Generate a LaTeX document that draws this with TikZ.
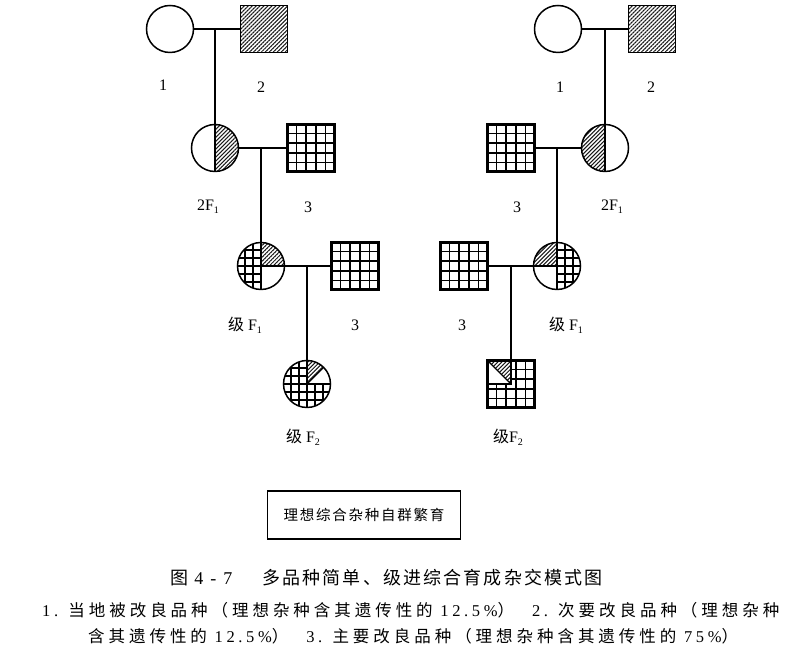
\documentclass[tikz,border=0pt]{standalone}
\usepackage{fontspec}
\setmainfont{Liberation Serif}
\newfontfamily\cjk{Noto Sans CJK SC}
\newfontfamily\cjkcap{Noto Sans CJK SC}[LetterSpace=12]
\newfontfamily\cjknote{Noto Sans CJK SC}[LetterSpace=24]
\newfontfamily\latnote{Liberation Serif}[LetterSpace=22]
\newfontfamily\latcap{Liberation Serif}[LetterSpace=14]
\newfontfamily\cjkbox{Noto Sans CJK SC}[LetterSpace=12]
\usetikzlibrary{patterns.meta}

\newcommand\sub[1]{\raisebox{-3pt}{\fontsize{10}{10}\selectfont #1}}
\newcommand\ppsetup{%
  \coordinate (pc) at (path picture bounding box.center);
  \coordinate (pn) at (path picture bounding box.north);
  \coordinate (ps) at (path picture bounding box.south);
  \coordinate (pe) at (path picture bounding box.east);
  \coordinate (pw) at (path picture bounding box.west);
  \coordinate (pne) at (path picture bounding box.north east);
  \coordinate (pnw) at (path picture bounding box.north west);
  \coordinate (psw) at (path picture bounding box.south west);
  \coordinate (pse) at (path picture bounding box.south east);}
% #1: x offsets of vertical lines, #2: y offsets of horizontal lines
\newcommand\gridat[2]{%
  \foreach \k in {#1}{\draw[gridln] ([xshift=\k pt]ps) -- ([xshift=\k pt]pn);}%
  \foreach \k in {#2}{\draw[gridln] ([yshift=\k pt]pw) -- ([yshift=\k pt]pe);}}

\tikzset{
  ind/.style={draw=black, line width=1.5pt, inner sep=0pt, outer sep=0pt},
  fem/.style={ind, circle, minimum size=47pt},
  mal/.style={ind, rectangle, minimum size=47pt},
  hatch/.style={pattern={Lines[angle=45,distance=2.8pt,line width=1.05pt]}, pattern color=black!90},
  gridln/.style={line width=1.5pt, black},
  div/.style={line width=1.3pt, black},
  link/.style={line width=1.4pt, black},
  lbl/.style={font=\fontsize{16}{16}\selectfont, inner sep=0pt},
  hatchsq/.style={mal, path picture={\ppsetup \fill[hatch] (psw) rectangle (pne);}},
  gridsq/.style={mal, line width=2.2pt, path picture={\ppsetup \gridat{-14.4,-4.8,4.8,14.4}{-14.4,-4.8,4.8,14.4}}},
}

\begin{document}
\begin{tikzpicture}[x=1pt,y=1pt]
\useasboundingbox (0,0) rectangle (809,658);
\fill[white] (0,0) rectangle (809,658);

% ---------- left pedigree ----------
\node[fem] (L1) at (170,629) {};
\node[hatchsq] (L2) at (264,629) {};
\node[fem, path picture={\ppsetup \fill[hatch] (ps) rectangle (pne); \draw[div] (pn) -- (ps);}] (LF) at (215,510) {};
\node[gridsq] (L3a) at (311,510) {};
\node[fem, path picture={\ppsetup
   \begin{scope}\clip (psw) rectangle (pn); \gridat{-16,-8,0}{-16,-8,0,8,16}\end{scope}
   \fill[hatch] (pc) rectangle (pne);
   \draw[div] (pn) -- (ps); \draw[div] (pc) -- (pe);}] (LG) at (261,392) {};
\node[gridsq] (L3b) at (355,392) {};
\node[fem, path picture={\ppsetup \gridat{-16,-8,0,8,16}{-16,-8,0,8,16}
   \fill[white] (pc) rectangle (pne);
   \fill[hatch] (pc) -- (pn) -- (pne) -- cycle;
   \draw[div] (pn) -- (pc) -- (pe); \draw[div] (pc) -- (pne);}] (LH) at (307,274) {};

\draw[link] (L1.east) -- (L2.west);
\draw[link] (LF.north) -- (LF.north |- L1.east);
\draw[link] (LF.east) -- (L3a.west);
\draw[link] (LG.north) -- (LG.north |- LF.east);
\draw[link] (LG.east) -- (L3b.west);
\draw[link] (LH.north) -- (LH.north |- LG.east);

\node[lbl] (t1L) at (163,573) {1};
\node[lbl] (t2L) at (261,571) {2};
\node[lbl] (tFL) at (208,451) {2F\sub{1}};
\node[lbl] (t3aL) at (308,451) {3};
\node[lbl] (tGL) at (245,333) {{\cjk 级} F\sub{1}};
\node[lbl] (t3bL) at (355,333) {3};
\node[lbl] (tHL) at (303,221) {{\cjk 级} F\sub{2}};

% ---------- right pedigree ----------
\node[fem] (R1) at (558,629) {};
\node[hatchsq] (R2) at (652,629) {};
\node[fem, path picture={\ppsetup \fill[hatch] (psw) rectangle (pn); \draw[div] (pn) -- (ps);}] (RF) at (605,510) {};
\node[gridsq] (R3a) at (511,510) {};
\node[fem, path picture={\ppsetup
   \begin{scope}\clip (ps) rectangle (pne); \gridat{0,8,16}{-16,-8,0,8,16}\end{scope}
   \fill[hatch] (pnw) rectangle (pc);
   \draw[div] (pn) -- (ps); \draw[div] (pw) -- (pc);}] (RG) at (557,392) {};
\node[gridsq] (R3b) at (464,392) {};
\node[mal, line width=2.2pt, path picture={\ppsetup \gridat{-14.4,-4.8,4.8,14.4}{-14.4,-4.8,4.8,14.4}
   \fill[white] (pnw) rectangle (pc);
   \fill[hatch] (pnw) -- (pn) -- (pc) -- cycle;
   \draw[div] (pn) -- (pc) -- (pw); \draw[div] (pnw) -- (pc);}] (RH) at (511,274) {};

\draw[link] (R1.east) -- (R2.west);
\draw[link] (RF.north) -- (RF.north |- R1.east);
\draw[link] (R3a.east) -- (RF.west);
\draw[link] (RG.north) -- (RG.north |- RF.west);
\draw[link] (R3b.east) -- (RG.west);
\draw[link] (RH.north) -- (RH.north |- RG.west);

\node[lbl] (t1R) at (560,571) {1};
\node[lbl] (t2R) at (651,571) {2};
\node[lbl] (t3aR) at (517,451) {3};
\node[lbl] (tFR) at (612,451) {2F\sub{1}};
\node[lbl] (t3bR) at (462,333) {3};
\node[lbl] (tGR) at (566,333) {{\cjk 级} F\sub{1}};
\node[lbl] (tHR) at (508,221) {{\cjk 级}F\sub{2}};

% ---------- box and caption ----------
\node[draw, line width=1.4pt, minimum width=193pt, minimum height=48pt, inner sep=0pt,
      font=\cjkbox\fontsize{14.5}{14.5}\selectfont] (box) at (364,143) {理想综合杂种自群繁育};

\node[anchor=west, inner sep=0pt, font=\cjkcap\fontsize{18}{18}\selectfont] (cap1) at (170,80)
  {\makebox[92pt][l]{图 {\latcap 4 - 7}}多品种简单、级进综合育成杂交模式图};
\node[anchor=west, inner sep=0pt, font=\cjknote\fontsize{16.5}{16.5}\selectfont] (cap2) at (42,48)
  {{\latnote 1.} 当地被改良品种（理想杂种含其遗传性的 {\latnote 12.5\%}）\hspace{18pt}{\latnote 2.} 次要改良品种（理想杂种};
\node[anchor=west, inner sep=0pt, font=\cjknote\fontsize{16.5}{16.5}\selectfont] (cap3) at (88,22)
  {含其遗传性的 {\latnote 12.5\%}）\hspace{18pt}{\latnote 3.} 主要改良品种（理想杂种含其遗传性的 {\latnote 75\%}）};
\end{tikzpicture}
\end{document}
